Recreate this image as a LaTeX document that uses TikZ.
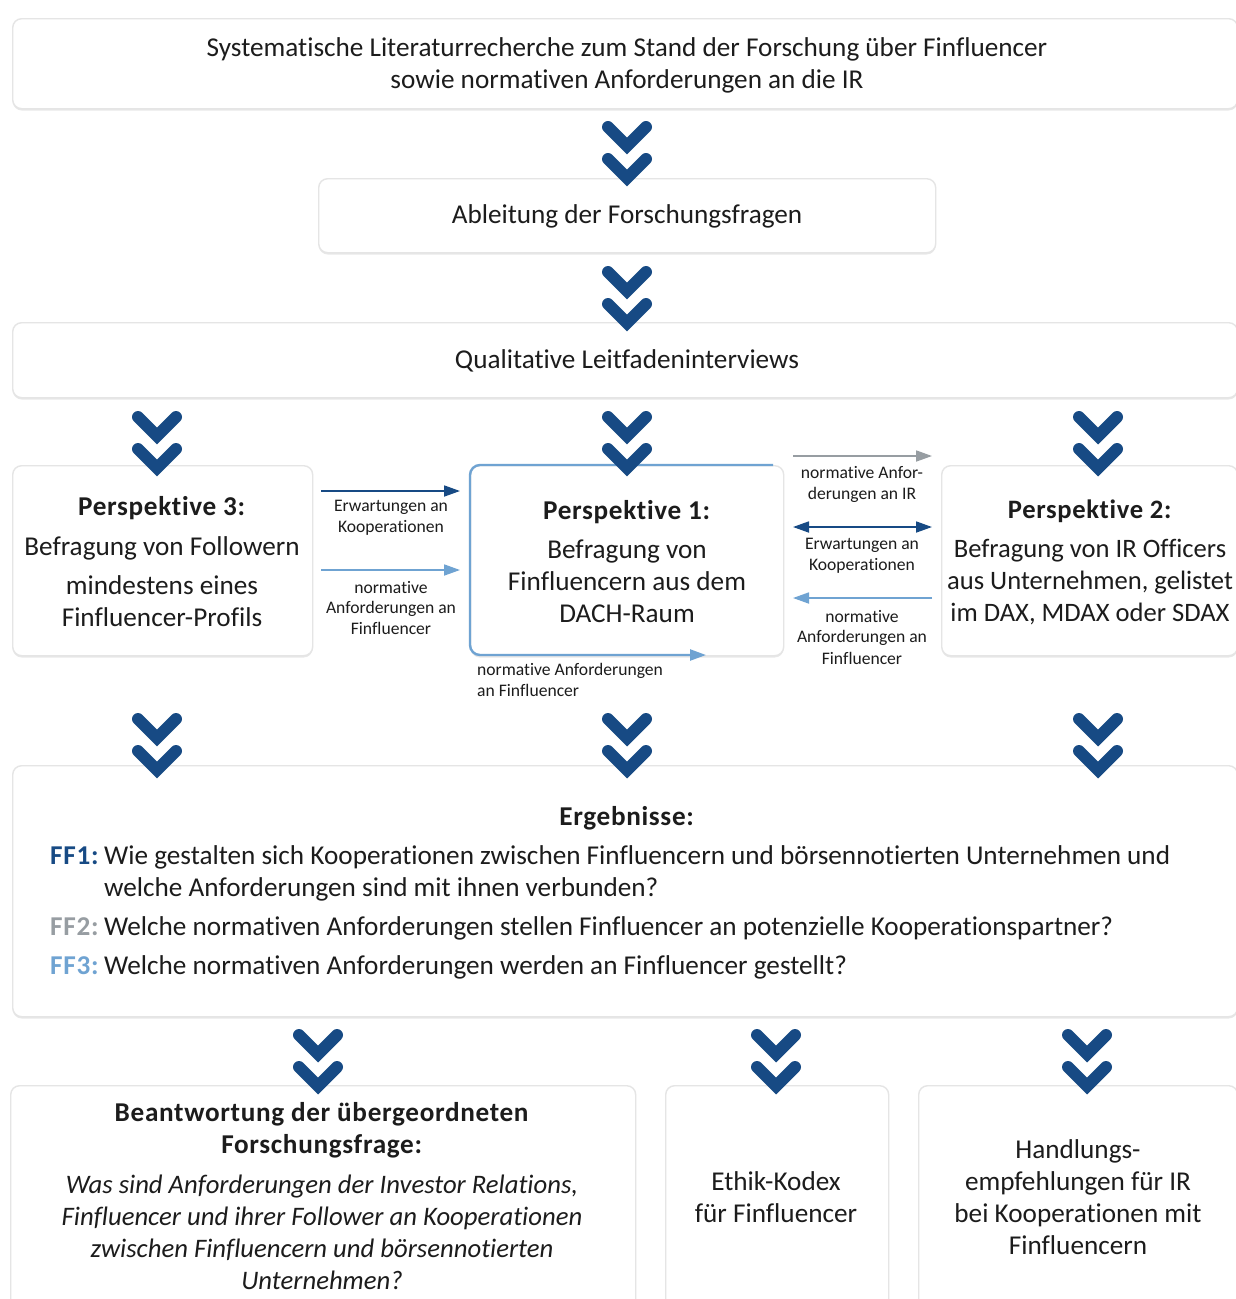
\documentclass[tikz,border=0pt]{standalone}
\usepackage{fontspec}
\setmainfont{Carlito}[Ligatures=NoCommon, BoldFeatures={LetterSpace=2.5}]
\usetikzlibrary{shadows,arrows.meta}
\definecolor{dblue}{HTML}{174A84}
\definecolor{lblue}{HTML}{6FA3D2}
\definecolor{mgray}{HTML}{979DA2}
\definecolor{txt}{HTML}{1C1C1C}
\begin{document}
\begin{tikzpicture}[x=1pt,y=-1pt,
  box/.style={draw=black!10, line width=1.4pt, fill=white, rounded corners=9pt,
    inner sep=0pt, anchor=north west,
    drop shadow={shadow xshift=0pt, shadow yshift=-1.8pt, opacity=0.18}},
  main/.style={text=txt, font=\fontsize{27.2}{32}\selectfont, align=center, inner sep=0pt},
  lbl/.style={text=txt, font=\fontsize{17.6}{21}\selectfont, align=center, inner sep=0pt},
  ffline/.style={text=txt, font=\fontsize{27.2}{32}\selectfont, anchor=base west, inner sep=0pt},
  conn/.style={line width=1.8pt, -{Triangle[length=16pt,width=11pt]}},
  chev/.pic={
    \draw[dblue, line width=12pt, line cap=round, line join=miter]
      (-19,7) -- (0,26) -- (19,7);
    \draw[dblue, line width=12pt, line cap=round, line join=miter]
      (-19,39) -- (0,58) -- (19,39);
  }]
\useasboundingbox (0,0) rectangle (1236,1299);
\fill[white] (0,0) rectangle (1236,1299);

% boxes
\node[box, minimum width=1225pt, minimum height=90pt] (top) at (12,18) {};
\node[box, minimum width=617pt, minimum height=74pt] (ablt) at (318,178) {};
\node[box, minimum width=1225pt, minimum height=75pt] (qual) at (12,322) {};
\node[box, minimum width=300pt, minimum height=190pt] (p3) at (12,465) {};
\node[box, minimum width=313pt, minimum height=190pt] (p1) at (470,465) {};
\node[box, minimum width=296pt, minimum height=190pt] (p2) at (941,465) {};
\node[box, minimum width=1225pt, minimum height=251pt] (erg) at (12,765) {};
\node[box, minimum width=625pt, minimum height=230pt] (ba) at (10,1085) {};
\node[box, minimum width=223pt, minimum height=230pt] (bb) at (665,1085) {};
\node[box, minimum width=319pt, minimum height=230pt] (bc) at (918,1085) {};

% texts in boxes
\node[main] (ttop) at (627,65) {Systematische Literaturrecherche zum Stand der Forschung über Finfluencer\\sowie normativen Anforderungen an die IR};
\node[main] (tablt) at (627,216) {Ableitung der Forschungsfragen};
\node[main] (tqual) at (627,361) {Qualitative Leitfadeninterviews};
\node[main] (tp3) at (162,562) {\textbf{Perspektive 3:}\\[8pt]Befragung von Followern\\[7pt]mindestens eines\\Finfluencer-Profils};
\node[main] (tp1) at (627,562) {\textbf{Perspektive 1:}\\[7pt]Befragung von\\Finfluencern aus dem\\DACH-Raum};
\node[main, font=\fontsize{26.6}{32}\selectfont] (tp2) at (1090,562) {\textbf{Perspektive 2:}\\[7pt]Befragung von IR Officers\\aus Unternehmen, gelistet\\im DAX, MDAX oder SDAX};

\node[main, anchor=base] (terg) at (627,825) {\textbf{Ergebnisse:}};
\node[ffline, text=dblue] (ff1) at (50,864) {\textbf{FF1:}};
\node[ffline] (ff1a) at (104,864) {Wie gestalten sich Kooperationen zwischen Finfluencern und börsennotierten Unternehmen und};
\node[ffline] (ff1b) at (104,896) {welche Anforderungen sind mit ihnen verbunden?};
\node[ffline, text=mgray] (ff2) at (50,935) {\textbf{FF2:}};
\node[ffline] (ff2a) at (104,935) {Welche normativen Anforderungen stellen Finfluencer an potenzielle Kooperationspartner?};
\node[ffline, text=lblue] (ff3) at (50,974) {\textbf{FF3:}};
\node[ffline] (ff3a) at (104,974) {Welche normativen Anforderungen werden an Finfluencer gestellt?};

\node[main] (tba1) at (322,1130) {\textbf{Beantwortung der übergeordneten}\\\textbf{Forschungsfrage:}};
\node[main, font=\fontsize{26.7}{32}\selectfont\itshape] (tba2) at (322,1232) {Was sind Anforderungen der Investor Relations,\\Finfluencer und ihrer Follower an Kooperationen\\zwischen Finfluencern und börsennotierten\\Unternehmen?};
\node[main] (tbb) at (776,1197) {Ethik-Kodex\\für Finfluencer};
\node[main] (tbc) at (1078,1197) {Handlungs-\\empfehlungen für IR\\bei Kooperationen mit\\Finfluencern};

% connector coordinates
\coordinate (a1s) at (321,491); \coordinate (a1e) at (460,491);
\coordinate (a2s) at (321,570); \coordinate (a2e) at (460,570);
\coordinate (a3s) at (793,456); \coordinate (a3e) at (932,456);
\coordinate (a4s) at (793,527); \coordinate (a4e) at (932,527);
\coordinate (a5s) at (932,598); \coordinate (a5e) at (793,598);
\coordinate (a6s) at (773,465); \coordinate (a6e) at (706,655);

\draw[conn, dblue] (a1s) -- (a1e);
\draw[conn, lblue] (a2s) -- (a2e);
\draw[conn, mgray] (a3s) -- (a3e);
\draw[conn, dblue, {Triangle[length=16pt,width=11pt]}-{Triangle[length=16pt,width=11pt]}] (a4s) -- (a4e);
\draw[conn, lblue] (a5s) -- (a5e);
\draw[conn, lblue, line width=2.4pt, rounded corners=10pt] (a6s) -- (470,465) -- (470,655) -- (a6e);

% connector labels
\node[lbl] (l1) at (391,518) {Erwartungen an\\Kooperationen};
\node[lbl] (l2) at (391,608) {normative\\Anforderungen an\\Finfluencer};
\node[lbl] (l3) at (862,484) {normative Anfor-\\derungen an IR};
\node[lbl] (l4) at (862,556) {Erwartungen an\\Kooperationen};
\node[lbl] (l5) at (862,637) {normative\\Anforderungen an\\Finfluencer};
\node[lbl, align=left, anchor=west] (l6) at (477,680) {normative Anforderungen\\an Finfluencer};

% chevrons
\pic at (627,120) {chev};
\pic at (627,265) {chev};
\pic at (157,410) {chev};
\pic at (627,410) {chev};
\pic at (1098,410) {chev};
\pic at (157,712) {chev};
\pic at (627,712) {chev};
\pic at (1098,712) {chev};
\pic at (318,1028) {chev};
\pic at (776,1028) {chev};
\pic at (1087,1028) {chev};
\end{tikzpicture}
\end{document}
